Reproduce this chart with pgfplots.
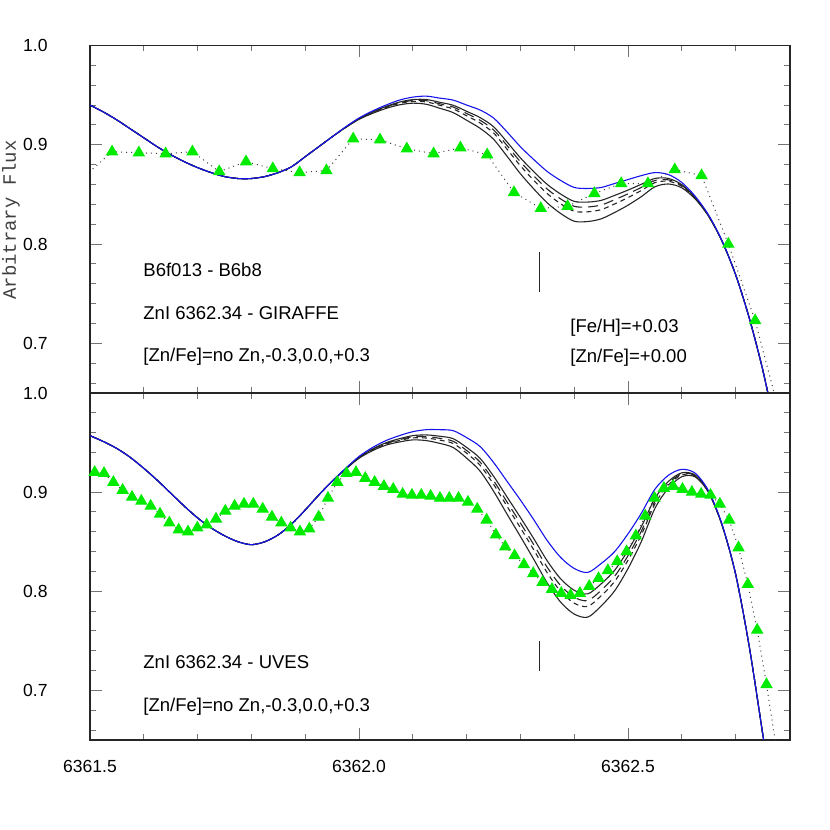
\documentclass[border=0pt]{standalone}
\usepackage{fontspec}
\setmainfont{Liberation Sans}
\newfontfamily\monofont{Liberation Mono}
\usepackage{pgfplots}
\pgfplotsset{compat=1.18}
\usepackage{pgfplotstable}

\definecolor{zgreen}{RGB}{0,235,0}
\definecolor{mblue}{RGB}{20,20,235}

% top panel (GIRAFFE) models: x, no Zn (blue), four black models
\pgfplotstableread{
x b c1 c2 c3 c4
6361.500 .940 .940 .940 .940 .940
6361.525 .933 .933 .933 .933 .933
6361.550 .925 .925 .925 .925 .925
6361.575 .916 .916 .916 .916 .916
6361.600 .907 .907 .907 .907 .907
6361.625 .898 .898 .898 .898 .898
6361.650 .890 .890 .890 .890 .890
6361.675 .883 .883 .883 .883 .883
6361.700 .877 .877 .877 .877 .877
6361.725 .872 .872 .872 .872 .872
6361.750 .868 .868 .868 .868 .868
6361.775 .866 .866 .866 .866 .866
6361.800 .866 .866 .866 .866 .866
6361.825 .868 .868 .868 .868 .868
6361.850 .872 .872 .872 .872 .872
6361.875 .878 .878 .878 .878 .878
6361.900 .888 .888 .888 .888 .888
6361.925 .898 .898 .898 .898 .898
6361.950 .908 .908 .908 .908 .908
6361.975 .918 .9177 .9176 .9175 .9173
6362.000 .927 .9264 .9262 .9260 .9256
6362.025 .934 .9330 .9327 .9323 .9316
6362.050 .940 .9386 .9381 .9376 .9366
6362.075 .945 .9430 .9423 .9416 .9402
6362.100 .948 .9455 .9446 .9437 .9419
6362.125 .949 .9456 .9444 .9432 .9408
6362.150 .947 .9428 .9413 .9398 .9368
6362.175 .945 .9398 .9380 .9361 .9324
6362.200 .940 .9337 .9315 .9292 .9247
6362.225 .935 .9274 .9247 .9220 .9166
6362.250 .927 .9182 .9150 .9119 .9056
6362.275 .913 .9029 .8993 .8957 .8885
6362.300 .898 .8868 .8828 .8788 .8708
6362.325 .885 .8728 .8685 .8641 .8554
6362.350 .873 .8600 .8553 .8507 .8414
6362.375 .864 .8503 .8454 .8405 .8307
6362.400 .857 .8430 .8380 .8330 .8230
6362.425 .856 .8423 .8374 .8325 .8227
6362.450 .857 .8440 .8393 .8347 .8254
6362.475 .861 .8490 .8447 .8404 .8318
6362.500 .865 .8544 .8506 .8468 .8392
6362.525 .869 .8603 .8572 .8541 .8479
6362.550 .872 .8661 .8640 .8619 .8577
6362.575 .870 .8661 .8647 .8633 .8605
6362.600 .862 .8598 .8590 .8582 .8566
6362.625 .848 .8469 .8465 .8461 .8453
6362.650 .829 .8284 .8282 .8280 .8276
6362.675 .803 .8027 .8026 .8025 .8023
6362.700 .769 .769 .769 .769 .769
6362.725 .726 .726 .726 .726 .726
6362.750 .674 .674 .674 .674 .674
6362.775 .612 .612 .612 .612 .612
}\topmodels

% bottom panel (UVES) models
\pgfplotstableread{
x b c1 c2 c3 c4
6361.500 .957 .957 .957 .957 .957
6361.525 .951 .951 .951 .951 .951
6361.550 .944 .944 .944 .944 .944
6361.575 .935 .935 .935 .935 .935
6361.600 .924 .924 .924 .924 .924
6361.625 .912 .912 .912 .912 .912
6361.650 .899 .899 .899 .899 .899
6361.675 .886 .886 .886 .886 .886
6361.700 .874 .874 .874 .874 .874
6361.725 .864 .864 .864 .864 .864
6361.750 .856 .856 .856 .856 .856
6361.775 .850 .850 .850 .850 .850
6361.800 .847 .847 .847 .847 .847
6361.825 .850 .850 .850 .850 .850
6361.850 .857 .857 .857 .857 .857
6361.875 .868 .868 .868 .868 .868
6361.900 .882 .882 .882 .882 .882
6361.925 .897 .897 .897 .897 .897
6361.950 .911 .911 .911 .911 .911
6361.975 .924 .9236 .9234 .9233 .9231
6362.000 .936 .9351 .9348 .9346 .9342
6362.025 .945 .9435 .9430 .9426 .9418
6362.050 .952 .9498 .9491 .9485 .9474
6362.075 .957 .9539 .9529 .9521 .9506
6362.100 .961 .9570 .9558 .9547 .9527
6362.125 .963 .9577 .9560 .9546 .9520
6362.150 .963 .9564 .9543 .9525 .9492
6362.175 .962 .9539 .9513 .9491 .9450
6362.200 .955 .9451 .9420 .9393 .9343
6362.225 .946 .9341 .9303 .9271 .9212
6362.250 .930 .9161 .9117 .9080 .9010
6362.275 .911 .8952 .8901 .8858 .8779
6362.300 .892 .8744 .8688 .8640 .8552
6362.325 .872 .8529 .8468 .8416 .8320
6362.350 .851 .8305 .8240 .8185 .8082
6362.375 .834 .8124 .8056 .7997 .7889
6362.400 .823 .8010 .7940 .7880 .7770
6362.425 .819 .7974 .7906 .7847 .7739
6362.450 .828 .8075 .8010 .7955 .7852
6362.475 .840 .8211 .8151 .8099 .8004
6362.500 .858 .8413 .8360 .8314 .8230
6362.525 .879 .8654 .8610 .8573 .8505
6362.550 .903 .8938 .8908 .8883 .8837
6362.575 .917 .9108 .9089 .9072 .9041
6362.600 .923 .9195 .9184 .9174 .9156
6362.625 .919 .9172 .9167 .9162 .9153
6362.650 .901 .9001 .8998 .8996 .8992
6362.675 .867 .8666 .8664 .8663 .8661
6362.700 .817 .817 .817 .817 .817
6362.725 .745 .745 .745 .745 .745
6362.750 .657 .657 .657 .657 .657
6362.775 .565 .565 .565 .565 .565
}\botmodels

% observed GIRAFFE spectrum
\pgfplotstableread{
x y
6361.4912 0.869
6361.5410 0.893
6361.5908 0.892
6361.6406 0.891
6361.6904 0.893
6361.7402 0.873
6361.7900 0.883
6361.8398 0.876
6361.8896 0.872
6361.9394 0.874
6361.9892 0.906
6362.0390 0.905
6362.0888 0.896
6362.1386 0.891
6362.1884 0.897
6362.2382 0.890
6362.2880 0.852
6362.3378 0.836
6362.3876 0.838
6362.4374 0.851
6362.4872 0.861
6362.5370 0.861
6362.5868 0.875
6362.6366 0.869
6362.6864 0.800
6362.7362 0.723
6362.7860 0.620
}\topobs

% observed UVES spectrum
\pgfplotstableread{
x y
6361.5087 0.920
6361.5260 0.919
6361.5434 0.910
6361.5607 0.902
6361.5781 0.895
6361.5954 0.891
6361.6128 0.886
6361.6301 0.878
6361.6474 0.869
6361.6648 0.862
6361.6821 0.860
6361.6995 0.864
6361.7168 0.867
6361.7342 0.873
6361.7515 0.881
6361.7688 0.886
6361.7862 0.888
6361.8035 0.888
6361.8209 0.883
6361.8382 0.875
6361.8555 0.869
6361.8729 0.864
6361.8902 0.860
6361.9076 0.863
6361.9249 0.875
6361.9423 0.894
6361.9596 0.910
6361.9769 0.919
6361.9943 0.920
6362.0116 0.914
6362.0290 0.910
6362.0463 0.906
6362.0636 0.903
6362.0810 0.898
6362.0983 0.897
6362.1157 0.897
6362.1330 0.896
6362.1504 0.894
6362.1677 0.894
6362.1850 0.894
6362.2024 0.890
6362.2197 0.883
6362.2371 0.872
6362.2544 0.857
6362.2717 0.845
6362.2891 0.836
6362.3064 0.827
6362.3238 0.818
6362.3411 0.809
6362.3585 0.802
6362.3758 0.798
6362.3931 0.796
6362.4105 0.798
6362.4278 0.805
6362.4452 0.813
6362.4625 0.821
6362.4799 0.830
6362.4972 0.840
6362.5145 0.856
6362.5319 0.876
6362.5492 0.894
6362.5666 0.904
6362.5839 0.906
6362.6012 0.903
6362.6186 0.900
6362.6359 0.898
6362.6533 0.897
6362.6706 0.888
6362.6880 0.872
6362.7053 0.844
6362.7226 0.807
6362.7400 0.761
6362.7573 0.706
6362.7747 0.645
}\botobs

\pgfplotsset{
  panel/.style={
    scale only axis, width=350bp,
    xmin=6361.5, xmax=6362.801, ymin=0.65, ymax=1.0,
    xtick={6361.5,6362.0,6362.5},
    minor xtick={6361.6,6361.7,6361.8,6361.9,6362.1,6362.2,6362.3,6362.4,6362.6,6362.7},
    ytick={0.7,0.8,0.9,1.0},
    minor ytick={0.66,0.68,0.72,0.74,0.76,0.78,0.82,0.84,0.86,0.88,0.92,0.94,0.96,0.98},
    tick align=inside, tick pos=both,
    major tick length=6bp, minor tick length=3bp,
    every tick/.style={black!55, line width=0.5bp},
    axis line style={black!85, line width=0.6bp},
    scaled ticks=false,
    /pgf/number format/assume math mode=true,
    /pgf/number format/fixed, /pgf/number format/fixed zerofill,
    /pgf/number format/precision=1, /pgf/number format/1000 sep={},
    yticklabel style={font=\fontsize{8.8}{10}\selectfont, anchor=east, inner sep=0pt, xshift=-21bp},
    xticklabel style={font=\fontsize{8.8}{10}\selectfont, anchor=north, inner sep=0pt, yshift=-10bp},
  },
  blk/.style={black!85, line width=0.55bp, smooth},
}

\begin{document}
\begin{tikzpicture}
\useasboundingbox (0,0) rectangle (415bp,415bp);

% ---------- top panel ----------
\begin{axis}[panel, height=173.75bp, at={(45bp,218.5bp)}, anchor=south west, xticklabels={}]
\addplot[blk] table[x=x,y=c1]{\topmodels};
\addplot[blk, dash pattern=on 5bp off 3bp] table[x=x,y=c2]{\topmodels};
\addplot[blk, dash pattern=on 2.5bp off 2bp] table[x=x,y=c3]{\topmodels};
\addplot[blk] table[x=x,y=c4]{\topmodels};
\addplot[mblue, line width=0.55bp, smooth] table[x=x,y=b]{\topmodels};
\addplot[black!75, dotted, line width=0.5bp, mark=triangle*, mark size=3.1bp,
  mark options={solid, fill=zgreen, draw=zgreen}] table[x=x,y=y]{\topobs};
\draw[black!85, line width=0.5bp] (axis cs:6362.336,0.792) -- (axis cs:6362.336,0.752);
\end{axis}

% ---------- bottom panel ----------
\begin{axis}[panel, height=173.5bp, at={(45bp,45bp)}, anchor=south west]
\addplot[blk] table[x=x,y=c1]{\botmodels};
\addplot[blk, dash pattern=on 5bp off 3bp] table[x=x,y=c2]{\botmodels};
\addplot[blk, dash pattern=on 2.5bp off 2bp] table[x=x,y=c3]{\botmodels};
\addplot[blk] table[x=x,y=c4]{\botmodels};
\addplot[mblue, line width=0.55bp, smooth] table[x=x,y=b]{\botmodels};
\addplot[black!75, dotted, line width=0.5bp, mark=triangle*, mark size=3.1bp,
  mark options={solid, fill=zgreen, draw=zgreen}] table[x=x,y=y]{\botobs};
\draw[black!85, line width=0.5bp] (axis cs:6362.336,0.750) -- (axis cs:6362.336,0.720);
\end{axis}

% y label
\node[rotate=90, inner sep=0pt, font=\monofont\fontsize{9.5}{11}\selectfont, text=black!75] at (5.5bp,305bp) {Arbitrary Flux};

% annotations
\begin{scope}[every node/.style={anchor=base west, inner sep=0pt, font=\fontsize{9.3}{11}\selectfont}]
\node at (71.5bp,276.6bp) {B6f013 - B6b8};
\node at (71.5bp,255.1bp) {ZnI 6362.34 - GIRAFFE};
\node at (71.5bp,234.1bp) {[Zn/Fe]=no Zn,-0.3,0.0,+0.3};
\node at (285bp,248.6bp) {[Fe/H]=+0.03};
\node at (285bp,233.6bp) {[Zn/Fe]=+0.00};
\node at (71.5bp,80.6bp) {ZnI 6362.34 - UVES};
\node at (71.5bp,59.1bp) {[Zn/Fe]=no Zn,-0.3,0.0,+0.3};
\end{scope}
\end{tikzpicture}
\end{document}
